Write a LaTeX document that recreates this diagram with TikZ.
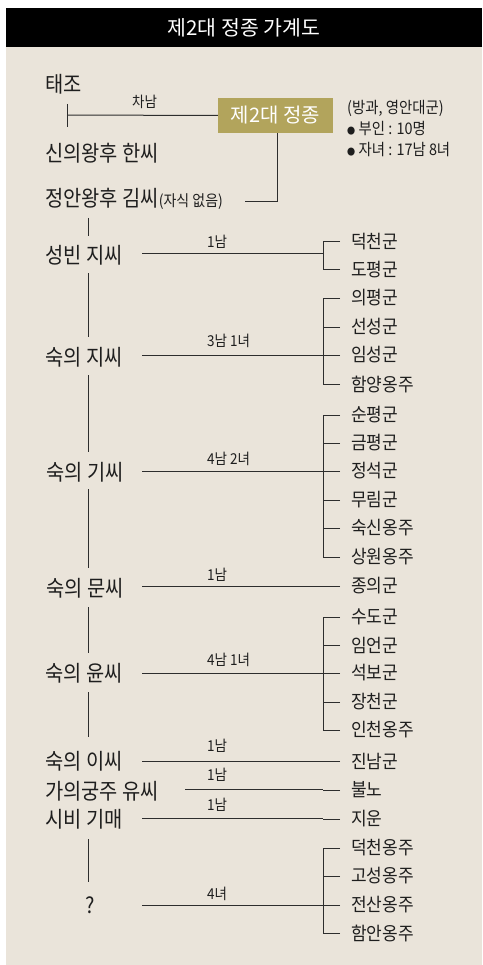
\documentclass[tikz,border=0pt]{standalone}
\usepackage{fontspec}
\setmainfont{Noto Sans CJK KR}
\newfontfamily\krc[FakeStretch=0.9]{Noto Sans CJK KR}
\newfontfamily\krk[FakeStretch=0.92]{Noto Sans CJK KR}
\definecolor{bg}{RGB}{234,228,218}
\definecolor{gold}{RGB}{178,164,92}
\definecolor{ln}{RGB}{45,45,45}
\definecolor{txt}{RGB}{30,30,30}
\newcommand\dotb{{\fontsize{9}{10}\selectfont ●}}
\begin{document}
\begin{tikzpicture}[x=1pt,y=-1pt,
  wife/.style={anchor=west, inner sep=0pt, text=txt, font=\krc\fontsize{22}{24}\selectfont},
  kid/.style={anchor=west, inner sep=0pt, text=txt, font=\krk\fontsize{18.5}{20}\selectfont},
  cnt/.style={anchor=west, inner sep=0pt, text=txt, font=\krc\fontsize{15}{16}\selectfont},
  info/.style={anchor=west, inner sep=0pt, text=txt, font=\krc\fontsize{16}{17}\selectfont},
  conn/.style={draw=ln, line width=1pt}]
\useasboundingbox (0,0) rectangle (482,965);
\fill[bg] (6,8) rectangle (482,965);
\fill[black] (6,8) rectangle (482,47);
\node[text=white, font=\fontsize{20.5}{22}\selectfont] (title) at (244,28) {제2대 정종 가계도};

% top part
\node[wife] (tj) at (45,84) {태조};
\node[wife] (sui) at (45,153) {신의왕후 한씨};
\node[wife] (jan) at (45,199) {정안왕후 김씨{\fontsize{15.5}{16}\selectfont(자식 없음)}};
\node[fill=gold, text=white, minimum width=115pt, minimum height=35pt, inner sep=0pt,
  font=\fontsize{20}{22}\selectfont] (jj) at (275.5,115.5) {제2대 정종};
\coordinate (tick) at (67,115);
\draw[conn] (67,104) -- (67,127);
\draw[conn] (tick) -- (jj.west);
\node[cnt] (cn) at (132,102) {차남};
\coordinate (jc) at (277,202);
\draw[conn] (jj.south -| jc) -- (jc) -- (245,202);
\node[info] (i1) at (347,108) {(방과, 영안대군)};
\node[info] (i2) at (347,129) {\dotb\ 부인 : 10명};
\node[info] (i3) at (347,150) {\dotb\ 자녀 : 17남 8녀};

% wives
\node[wife] (w1) at (45,255) {성빈 지씨};
\node[wife] (w2) at (45,357) {숙의 지씨};
\node[wife] (w3) at (46,472) {숙의 기씨};
\node[wife] (w4) at (46,588) {숙의 문씨};
\node[wife] (w5) at (45,673) {숙의 윤씨};
\node[wife] (w6) at (45,761) {숙의 이씨};
\node[wife] (w7) at (45,791) {가의궁주 유씨};
\node[wife] (w8) at (45,819) {시비 기매};
\node[wife, anchor=center] (w9) at (90,905) {?};

% spine
\coordinate (sp) at (88,0);
\draw[conn] ([yshift=-8pt]jan.south -| sp) -- ([yshift=9pt]w1.north -| sp);
\draw[conn] ([yshift=-8pt]w1.south -| sp) -- ([yshift=10pt]w2.north -| sp);
\draw[conn] ([yshift=-8pt]w2.south -| sp) -- ([yshift=10pt]w3.north -| sp);
\draw[conn] ([yshift=-7pt]w3.south -| sp) -- ([yshift=10pt]w4.north -| sp);
\draw[conn] ([yshift=-9pt]w4.south -| sp) -- ([yshift=10pt]w5.north -| sp);
\draw[conn] ([yshift=-9pt]w5.south -| sp) -- ([yshift=14pt]w6.north -| sp);
\draw[conn] ([yshift=-10pt]w8.south -| sp) -- ([yshift=14pt]w9.north -| sp);

% children
\foreach \i/\t/\y in {1/덕천군/242, 2/도평군/270}{\node[kid] (a\i) at (351,\y) {\t};}
\foreach \i/\t/\y in {1/의평군/298, 2/선성군/327, 3/임성군/355, 4/함양옹주/384}{\node[kid] (b\i) at (351,\y) {\t};}
\foreach \i/\t/\y in {1/순평군/415, 2/금평군/443, 3/정석군/471, 4/무림군/500, 5/숙신옹주/528, 6/상원옹주/557}{\node[kid] (c\i) at (351,\y) {\t};}
\node[kid] (d1) at (351,586) {종의군};
\foreach \i/\t/\y in {1/수도군/617, 2/임언군/645, 3/석보군/673, 4/장천군/702, 5/인천옹주/730}{\node[kid] (e\i) at (351,\y) {\t};}
\node[kid] (f1) at (351,761) {진남군};
\node[kid] (g1) at (351,790) {불노};
\node[kid] (h1) at (351,819) {지운};
\foreach \i/\t/\y in {1/덕천옹주/848, 2/고성옹주/876, 3/전산옹주/905, 4/함안옹주/933}{\node[kid] (k\i) at (351,\y) {\t};}

% ticks
\foreach \n in {a1,a2,b1,b2,b3,b4,c1,c2,c3,c4,c5,c6,e1,e2,e3,e4,e5,k1,k2,k3,k4,d1,f1,g1,h1}
  {\draw[conn] ([xshift=-11pt]\n.west) -- ([xshift=-28pt]\n.west);}
% brackets
\draw[conn] ([xshift=-28pt]a1.west) -- ([xshift=-28pt]a2.west);
\draw[conn] ([xshift=-28pt]b1.west) -- ([xshift=-28pt]b4.west);
\draw[conn] ([xshift=-28pt]c1.west) -- ([xshift=-28pt]c6.west);
\draw[conn] ([xshift=-28pt]e1.west) -- ([xshift=-28pt]e5.west);
\draw[conn] ([xshift=-28pt]k1.west) -- ([xshift=-28pt]k4.west);

% family lines
\draw[conn] (142,254) coordinate (l1) -- (323,254) coordinate (r1);
\draw[conn] (142,355) coordinate (l2) -- (323,355) coordinate (r2);
\draw[conn] (142,471) coordinate (l3) -- (323,471) coordinate (r3);
\draw[conn] (142,586) coordinate (l4) -- (323,586) coordinate (r4);
\draw[conn] (142,673) coordinate (l5) -- (323,673) coordinate (r5);
\draw[conn] (142,761) coordinate (l6) -- (323,761) coordinate (r6);
\draw[conn] (185,789) coordinate (l7) -- (323,789) coordinate (r7);
\draw[conn] (142,818) coordinate (l8) -- (323,818) coordinate (r8);
\draw[conn] (142,905) coordinate (l9) -- (323,905) coordinate (r9);

% counts
\node[cnt] (n1) at (207,242) {1남};
\node[cnt] (n2) at (207,341) {3남 1녀};
\node[cnt] (n3) at (207,459) {4남 2녀};
\node[cnt] (n4) at (207,575) {1남};
\node[cnt] (n5) at (207,660) {4남 1녀};
\node[cnt] (n6) at (207,746) {1남};
\node[cnt] (n7) at (207,775) {1남};
\node[cnt] (n8) at (207,805) {1남};
\node[cnt] (n9) at (207,894) {4녀};
\end{tikzpicture}
\end{document}
